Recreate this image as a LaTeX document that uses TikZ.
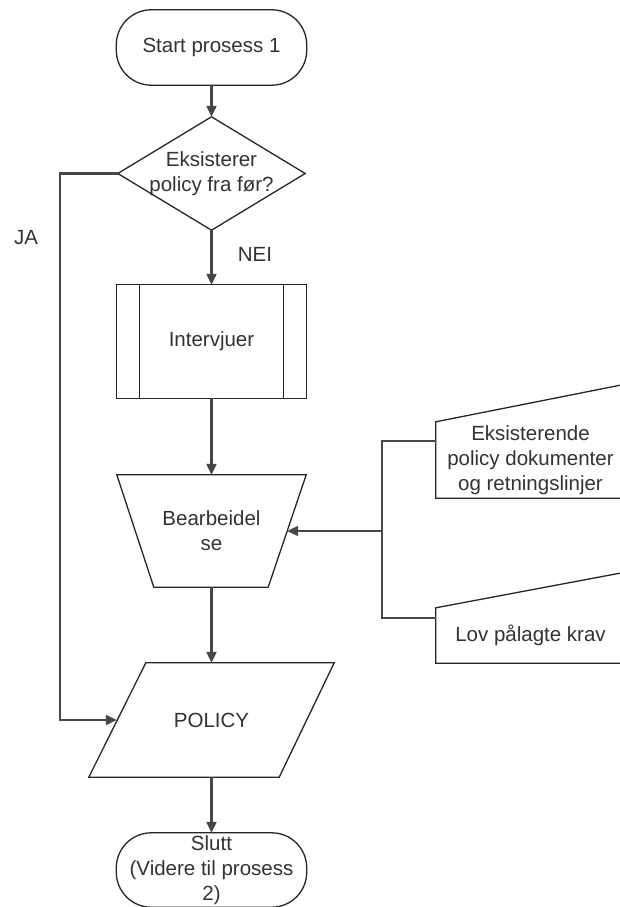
\documentclass[tikz,border=0pt]{standalone}
\usepackage{fontspec}
\setmainfont{Liberation Sans}
\usetikzlibrary{arrows.meta,calc}

\definecolor{inkline}{HTML}{262626}
\definecolor{wire}{HTML}{474747}
\definecolor{txtgray}{HTML}{333333}

\tikzset{
  cell/.style={rectangle, draw=none, inner sep=0pt, align=center,
    text=txtgray, font=\fontsize{20.5}{25}\selectfont},
  outline/.style={draw=inkline, line width=1.3pt, line join=miter},
  wireline/.style={draw=wire, line width=2.2pt},
  arr/.style={wireline, -{Triangle[width=10pt,length=11pt]}},
  lbl/.style={text=txtgray, inner sep=0pt, font=\fontsize{20.5}{25}\selectfont}
}

\begin{document}
\begin{tikzpicture}[x=1pt, y=-1pt]
\useasboundingbox (0,0) rectangle (620,907);
\fill[white] (0,0) rectangle (620,907);
\clip (0,0) rectangle (620,907);

% main column
\node[cell, minimum width=190pt, minimum height=75pt] (start) at (211.5,47.5) {Start prosess 1};
\draw[outline, rounded corners=35pt] (start.north west) rectangle (start.south east);

\node[cell, minimum width=187pt, minimum height=113pt] (dec) at (211.5,173.5) {Eksisterer\\policy fra før?};
\draw[outline] (dec.north) -- (dec.east) -- (dec.south) -- (dec.west) -- cycle;

% predefined process box with its two side bars
\node[cell, minimum width=189pt, minimum height=113pt] (interv) at (211.5,341.5) {Intervjuer};
\draw[outline] (interv.north west) rectangle (interv.south east);
\draw[outline] ($(interv.north west)+(23,0)$) -- ($(interv.south west)+(23,0)$);
\draw[outline] ($(interv.north east)+(-23,0)$) -- ($(interv.south east)+(-23,0)$);

\node[cell, minimum width=189pt, minimum height=112pt] (bear) at (211.5,531) {Bearbeidel\\se};
\draw[outline] (bear.north west) -- (bear.north east) -- ($(bear.south east)+(-38,0)$)
  -- ($(bear.south west)+(37,0)$) -- cycle;

\node[cell, minimum width=245pt, minimum height=114pt] (pol) at (211.5,720) {POLICY};
\draw[outline] ($(pol.north west)+(57,0)$) -- (pol.north east) -- ($(pol.south east)+(-55,0)$)
  -- (pol.south west) -- cycle;

\node[cell, minimum width=190pt, minimum height=74pt] (stop) at (211.5,870) {Slutt\\(Videre til prosess\\2)};
\draw[outline, rounded corners=35pt] (stop.north west) rectangle (stop.south east);

% manual inputs on the right
\node[cell, minimum width=189pt, minimum height=76pt] (doc) at (530.5,460) {Eksisterende\\policy dokumenter\\og retningslinjer};
\draw[outline] ($(doc.south east)+(2,0)$) -- (doc.south west) -- (doc.north west)
  -- ($(doc.north east)+(2,-38)$) -- cycle;

\node[cell, minimum width=189pt, minimum height=55pt] (law) at (530.5,635.5) {Lov pålagte krav};
\draw[outline] ($(law.south east)+(2,0)$) -- (law.south west) -- (law.north west)
  -- ($(law.north east)+(2,-36)$) -- cycle;

% labels
\node[lbl] (ja) at (26,238) {JA};
\node[lbl] (nei) at (255,254) {NEI};

% connection points
\coordinate (polin) at ($(pol.west)+(28,0)$);
\coordinate (bearin) at ($(bear.east)+(-19,0)$);
\coordinate (docin) at ($(doc.west)+(0,-19)$);
\coordinate (lawin) at ($(law.west)+(0,-17.5)$);

% connectors
\draw[arr] (start.south) -- (dec.north);
\draw[arr] (dec.south) -- (interv.north);
\draw[arr] (dec.west) -- ++(-58,0) |- (polin);
\draw[arr] (interv.south) -- (bear.north);
\draw[wireline] (docin) -- ++(-54,0) coordinate (bus) |- (lawin);
\draw[arr] (bus |- bearin) -- (bearin);
\draw[arr] (bear.south) -- (pol.north);
\draw[arr] (pol.south) -- (stop.north);
\end{tikzpicture}
\end{document}
